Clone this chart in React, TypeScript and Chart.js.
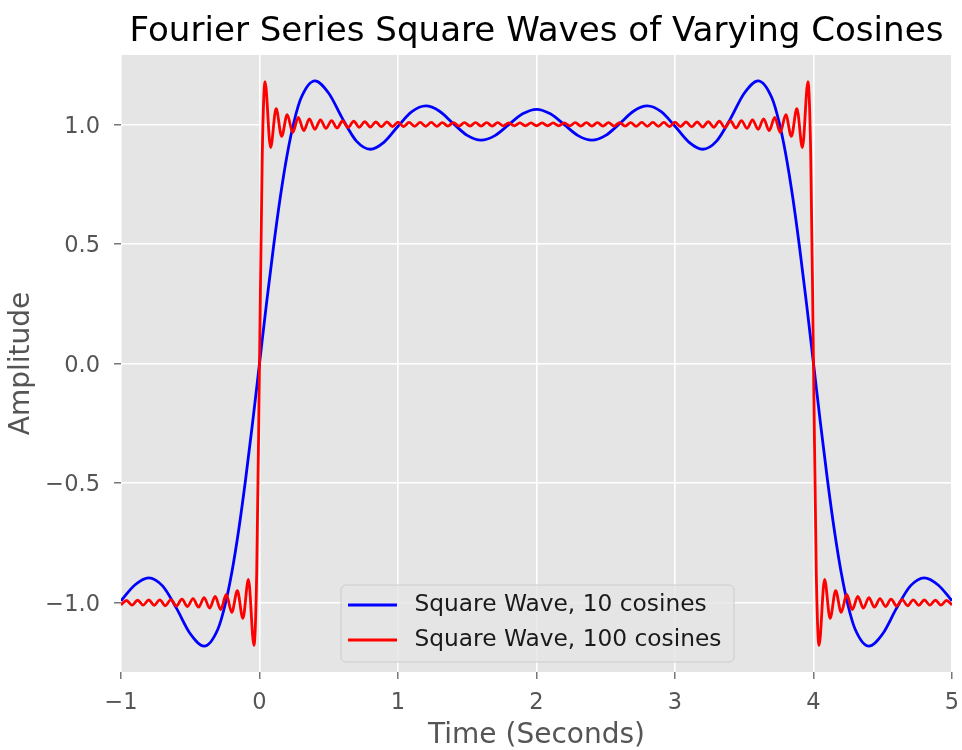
import React, { useEffect, useRef } from "react";
import { Chart, registerables } from "chart.js";

Chart.register(...registerables);

const chartTitle = "Fourier Series Square Waves of Varying Cosines";
const xAxisTitle = "Time (Seconds)";
const yAxisTitle = "Amplitude";
const seriesNames = ["Square Wave, 10 cosines", "Square Wave, 100 cosines"];
const seriesColors = ["#0000ff", "#ff0000"];

const xTickValues = [-1, 0, 1, 2, 3, 4, 5];
const xTickLabels = ["\u22121", "0", "1", "2", "3", "4", "5"];
const yTickValues = [-1, -0.5, 0, 0.5, 1];
const yTickLabels = ["\u22121.0", "\u22120.5", "0.0", "0.5", "1.0"];

// Square wave, 10 cosines (blue)
const blueTime = [
  -1.0, -0.9, -0.8, -0.7, -0.6, -0.5, -0.4, -0.3, -0.25, -0.2, -0.15, -0.1, -0.05,
  0, 0.05, 0.1, 0.15, 0.2, 0.25, 0.3,
  0.4, 0.5, 0.6, 0.7, 0.8, 0.9, 1.0, 1.1, 1.2, 1.3, 1.4, 1.5, 1.6, 1.7, 1.8, 1.9, 2.0,
  2.1, 2.2, 2.3, 2.4, 2.5, 2.6, 2.7, 2.8, 2.9, 3.0, 3.1, 3.2, 3.3, 3.4, 3.5, 3.6, 3.7,
  3.75, 3.8, 3.85, 3.9, 3.95, 4.0,
  4.05, 4.1, 4.15, 4.2, 4.25, 4.3, 4.4, 4.5, 4.6, 4.7, 4.8, 4.9, 5.0,
];
const blueAmp = [
  -0.992, -0.926, -0.896, -0.93, -1.023, -1.13, -1.182, -1.11, -1.013, -0.874, -0.695, -0.483, -0.248,
  0, 0.248, 0.483, 0.695, 0.874, 1.013, 1.11,
  1.182, 1.13, 1.023, 0.93, 0.896, 0.926, 0.992, 1.053, 1.077, 1.055, 1.003, 0.954, 0.934, 0.953, 0.999, 1.044, 1.063,
  1.044, 0.999, 0.953, 0.934, 0.954, 1.003, 1.055, 1.077, 1.053, 0.992, 0.926, 0.896, 0.93, 1.023, 1.13, 1.182, 1.11,
  1.013, 0.874, 0.695, 0.483, 0.248, 0,
  -0.248, -0.483, -0.695, -0.874, -1.013, -1.11, -1.182, -1.13, -1.023, -0.93, -0.896, -0.926, -0.992,
];

// Square wave, 100 cosines (red)
const redTime = [
  -1.0, -0.96, -0.92, -0.88, -0.84, -0.8, -0.76, -0.72, -0.68, -0.64,
  -0.6, -0.56, -0.52, -0.48, -0.44, -0.4, -0.36, -0.32, -0.28, -0.24,
  -0.2, -0.16, -0.12, -0.08, -0.04, -0.02, 0, 0.02,
  0.04, 0.08, 0.12, 0.16, 0.2, 0.24, 0.28, 0.32, 0.36, 0.4,
  0.44, 0.48, 0.52, 0.56, 0.6, 0.64, 0.68, 0.72, 0.76, 0.8,
  0.84, 0.88, 0.92, 0.96, 1.0, 1.04, 1.08, 1.12, 1.16, 1.2,
  1.24, 1.28, 1.32, 1.36, 1.4, 1.44, 1.48, 1.52, 1.56, 1.6,
  1.64, 1.68, 1.72, 1.76, 1.8, 1.84, 1.88, 1.92, 1.96, 2.0,
  2.04, 2.08, 2.12, 2.16, 2.2, 2.24, 2.28, 2.32, 2.36, 2.4,
  2.44, 2.48, 2.52, 2.56, 2.6, 2.64, 2.68, 2.72, 2.76, 2.8,
  2.84, 2.88, 2.92, 2.96, 3.0, 3.04, 3.08, 3.12, 3.16, 3.2,
  3.24, 3.28, 3.32, 3.36, 3.4, 3.44, 3.48, 3.52, 3.56, 3.6,
  3.64, 3.68, 3.72, 3.76, 3.8, 3.84, 3.88, 3.92, 3.96,
  3.98, 4.0, 4.02,
  4.04, 4.08, 4.12, 4.16, 4.2, 4.24, 4.28, 4.32, 4.36, 4.4,
  4.44, 4.48, 4.52, 4.56, 4.6, 4.64, 4.68, 4.72, 4.76, 4.8,
  4.84, 4.88, 4.92, 4.96, 5.0,
];
const redAmp = [
  -1.009, -0.991, -1.01, -0.99, -1.01, -0.989, -1.011, -0.988, -1.013, -0.987,
  -1.014, -0.985, -1.016, -0.983, -1.019, -0.979, -1.023, -0.974, -1.029, -0.966,
  -1.041, -0.95, -1.066, -0.903, -1.179, -0.873, 0, 0.873,
  1.179, 0.903, 1.066, 0.95, 1.041, 0.966, 1.029, 0.974, 1.023, 0.979,
  1.019, 0.983, 1.016, 0.985, 1.014, 0.987, 1.013, 0.988, 1.011, 0.989,
  1.01, 0.99, 1.01, 0.991, 1.009, 0.991, 1.008, 0.992, 1.008, 0.992,
  1.008, 0.992, 1.007, 0.993, 1.007, 0.993, 1.007, 0.993, 1.007, 0.993,
  1.007, 0.993, 1.007, 0.994, 1.006, 0.994, 1.006, 0.994, 1.006, 0.994,
  1.006, 0.994, 1.006, 0.994, 1.006, 0.994, 1.007, 0.993, 1.007, 0.993,
  1.007, 0.993, 1.007, 0.993, 1.007, 0.993, 1.007, 0.992, 1.008, 0.992,
  1.008, 0.992, 1.008, 0.991, 1.009, 0.991, 1.01, 0.99, 1.01, 0.989,
  1.011, 0.988, 1.013, 0.987, 1.014, 0.985, 1.016, 0.983, 1.019, 0.979,
  1.023, 0.974, 1.029, 0.966, 1.041, 0.95, 1.066, 0.903, 1.179,
  0.873, 0, -0.873,
  -1.179, -0.903, -1.066, -0.95, -1.041, -0.966, -1.029, -0.974, -1.023, -0.979,
  -1.019, -0.983, -1.016, -0.985, -1.014, -0.987, -1.013, -0.988, -1.011, -0.989,
  -1.01, -0.99, -1.01, -0.991, -1.009,
];

const FONT = "'DejaVu Sans', 'Liberation Sans', sans-serif";
const LINE_W = 2.8;

export default function App() {
  const ref = useRef<HTMLCanvasElement | null>(null);

  useEffect(() => {
    document.body.style.margin = "0";
    const canvas = ref.current;
    if (!canvas) return;

    const plotBg = {
      id: "plotBg",
      beforeDraw(chart: any) {
        const { ctx, chartArea: a } = chart;
        ctx.save();
        ctx.fillStyle = "#ffffff";
        ctx.fillRect(0, 0, chart.width, chart.height);
        ctx.fillStyle = "#e5e5e5";
        ctx.fillRect(a.left, a.top, a.right - a.left, a.bottom - a.top);
        ctx.restore();
      },
    };

    const boxLegend = {
      id: "boxLegend",
      afterDraw(chart: any) {
        const { ctx } = chart;
        const x0 = 341, y0 = 585, x1 = 734, y1 = 662, r = 5;
        ctx.save();
        ctx.beginPath();
        ctx.moveTo(x0 + r, y0);
        ctx.lineTo(x1 - r, y0);
        ctx.arcTo(x1, y0, x1, y0 + r, r);
        ctx.lineTo(x1, y1 - r);
        ctx.arcTo(x1, y1, x1 - r, y1, r);
        ctx.lineTo(x0 + r, y1);
        ctx.arcTo(x0, y1, x0, y1 - r, r);
        ctx.lineTo(x0, y0 + r);
        ctx.arcTo(x0, y0, x0 + r, y0, r);
        ctx.closePath();
        ctx.fillStyle = "rgba(229,229,229,0.8)";
        ctx.fill();
        ctx.strokeStyle = "#cccccc";
        ctx.lineWidth = 1;
        ctx.stroke();
        const rows = [605, 640];
        chart.data.datasets.forEach((ds: any, i: number) => {
          const y = rows[i];
          ctx.beginPath();
          ctx.moveTo(348, y);
          ctx.lineTo(397, y);
          ctx.strokeStyle = ds.borderColor;
          ctx.lineWidth = LINE_W;
          ctx.stroke();
          ctx.fillStyle = "#1a1a1a";
          ctx.font = `23.3px ${FONT}`;
          ctx.textBaseline = "middle";
          ctx.textAlign = "left";
          ctx.fillText(ds.label, 414.5, y);
        });
        ctx.restore();
      },
    };

    const chart = new Chart(canvas, {
      type: "line",
      data: {
        datasets: [
          {
            label: seriesNames[0],
            data: blueTime.map((t, i) => ({ x: t, y: blueAmp[i] })),
            borderColor: seriesColors[0],
            backgroundColor: seriesColors[0],
            borderWidth: LINE_W,
            pointRadius: 0,
            cubicInterpolationMode: "monotone",
            fill: false,
            order: 1,
          },
          {
            label: seriesNames[1],
            data: redTime.map((t, i) => ({ x: t, y: redAmp[i] })),
            borderColor: seriesColors[1],
            backgroundColor: seriesColors[1],
            borderWidth: LINE_W,
            pointRadius: 0,
            cubicInterpolationMode: "monotone",
            fill: false,
            order: 0,
          },
        ],
      },
      options: {
        animation: false,
        responsive: false,
        devicePixelRatio: 1,
        layout: { padding: { left: 0, right: 10, top: 0, bottom: 0 } },
        plugins: {
          legend: { display: false },
          tooltip: { enabled: false },
          title: {
            display: true,
            text: chartTitle,
            fullSize: false,
            color: "#000000",
            font: { family: FONT, size: 34.1, weight: "normal", lineHeight: 1.2 },
            padding: { top: 11.6, bottom: 2.5 },
          },
        },
        scales: {
          x: {
            type: "linear",
            min: -1,
            max: 5,
            afterBuildTicks: (scale: any) => {
              scale.ticks = xTickValues.map((v) => ({ value: v }));
            },
            afterFit: (scale: any) => {
              scale.height = 78;
              scale.paddingLeft = 0;
              scale.paddingRight = 0;
            },
            ticks: {
              color: "#555555",
              font: { family: FONT, size: 22.5 },
              padding: 11,
              maxRotation: 0,
              autoSkip: false,
              callback: (_v: any, i: number) => xTickLabels[i],
            },
            grid: {
              color: "#ffffff",
              lineWidth: 1.6,
              drawTicks: true,
              tickLength: 7,
              tickColor: "#555555",
              tickWidth: 1.2,
            },
            border: { display: false },
            title: {
              display: true,
              text: xAxisTitle,
              color: "#555555",
              font: { family: FONT, size: 28, lineHeight: 1 },
              padding: { top: 0, bottom: 0 },
            },
          },
          y: {
            type: "linear",
            min: -1.29,
            max: 1.29,
            afterBuildTicks: (scale: any) => {
              scale.ticks = yTickValues.map((v) => ({ value: v }));
            },
            afterFit: (scale: any) => {
              scale.width = 121;
              scale.paddingTop = 0;
              scale.paddingBottom = 0;
            },
            ticks: {
              color: "#555555",
              font: { family: FONT, size: 22.5 },
              padding: 14,
              labelOffset: 2.5,
              autoSkip: false,
              callback: (_v: any, i: number) => yTickLabels[i],
            },
            grid: {
              color: "#ffffff",
              lineWidth: 1.6,
              drawTicks: true,
              tickLength: 7,
              tickColor: "#555555",
              tickWidth: 1.2,
            },
            border: { display: false },
            title: {
              display: true,
              text: yAxisTitle,
              color: "#555555",
              font: { family: FONT, size: 28, lineHeight: 1 },
              padding: { top: 7.3, bottom: 0 },
            },
          },
        },
      },
      plugins: [plotBg, boxLegend],
    } as any);

    return () => chart.destroy();
  }, []);

  return (
    <div style={{ position: "absolute", left: 0, top: 0, width: 962, height: 750 }}>
      <canvas ref={ref} width={962} height={750} style={{ display: "block", width: 962, height: 750 }} />
    </div>
  );
}
